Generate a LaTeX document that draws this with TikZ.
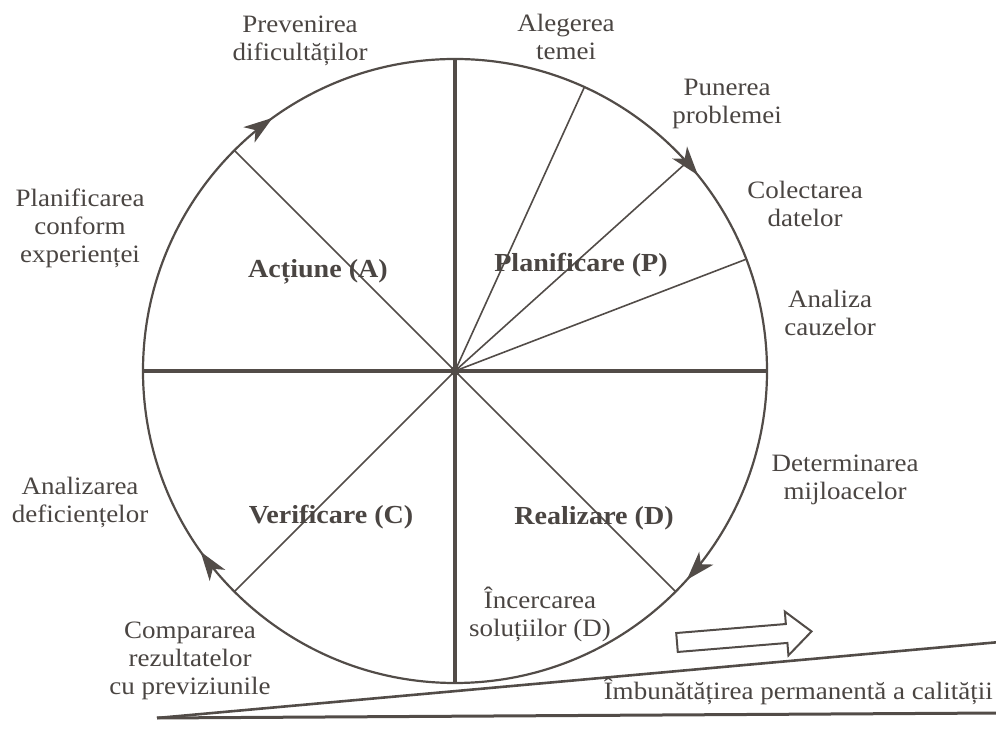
\documentclass[tikz,border=0pt]{standalone}
\usepackage{fontspec}
\setmainfont{Liberation Serif}[FakeStretch=1.08]
\usetikzlibrary{arrows.meta,decorations.markings,calc}
\definecolor{ink}{RGB}{82,76,72}
\definecolor{txt}{RGB}{74,69,66}

\begin{document}
\begin{tikzpicture}[x=1pt,y=1pt,
  lbl/.style={align=center,text=txt,font=\fontsize{25}{28}\selectfont,inner sep=0pt},
  phase/.style={text=txt,font=\fontsize{26}{30}\selectfont\bfseries,inner sep=0pt},
  axisline/.style={draw=ink,line width=3.4pt},
  spoke/.style={draw=ink,line width=1.6pt},
  rim/.style={draw=ink,line width=2.2pt},
  flowtip/.tip={Stealth[length=29pt,width=19pt,inset=8pt]},
]
\useasboundingbox (0,0) rectangle (996,741);

% centre of the PDCA wheel and points on its rim
\coordinate (o) at (455,370);
\foreach \a/\n in {0/e,90/n,180/w,270/s,135/act,225/ver,315/rea,65.5/ale,42/pun,21/col}
  \coordinate (r\n) at ($(o)+(\a:312)$);

% rim, drawn clockwise, with the direction arrows
\draw[rim, postaction={decorate}, decoration={markings,
    mark=at position 0.1167 with {\arrow[ink]{flowtip}},
    mark=at position 0.4017 with {\arrow[ink]{flowtip}},
    mark=at position 0.6506 with {\arrow[ink]{flowtip}},
    mark=at position 0.8920 with {\arrow[ink]{flowtip}}}]
  (re) arc[start angle=0, end angle=-360, radius=312];

% main axes
\draw[axisline] (rw) -- (re);
\draw[axisline] (rn) -- (rs);

% spokes
\foreach \n in {act,ver,rea,ale,pun,col}
  \draw[spoke] (o) -- (r\n);
\fill[ink] (o) circle (5);

% phase names
\node[phase] (pA) at (318,469) {Acțiune (A)};
\node[phase] (pP) at (581,476) {Planificare (P)};
\node[phase] (pC) at (331,224) {Verificare (C)};
\node[phase] (pD) at (594,223) {Realizare (D)};

% step labels round the wheel
\node[lbl] (l1) at (300,700) {Prevenirea\\dificultăților};
\node[lbl] (l2) at (566,704) {Alegerea\\temei};
\node[lbl] (l3) at (727,637) {Punerea\\problemei};
\node[lbl] (l4) at (805,537) {Colectarea\\datelor};
\node[lbl] (l5) at (830,428) {Analiza\\cauzelor};
\node[lbl] (l6) at (845,261) {Determinarea\\mijloacelor};
\node[lbl] (l7) at (540,127) {Încercarea\\soluțiilor (D)};
\node[lbl] (l8) at (190,80) {Compararea\\rezultatelor\\cu previziunile};
\node[lbl] (l9) at (80,239) {Analizarea\\deficiențelor};
\node[lbl] (l10) at (80,513) {Planificarea\\conform\\experienței};

% rising wedge of continuous improvement
\coordinate (wtip) at (157,23);
\coordinate (wlow) at (1000,28);
\coordinate (wup) at (1000,99);
\draw[ink, line width=3pt] (wtip) -- (wlow);
\draw[ink, line width=2.6pt] (wtip) -- (wup);
\node[lbl, anchor=base east] (imp) at (993,41) {Îmbunătățirea permanentă a calității};

% hollow arrow above the wedge
\begin{scope}[shift={(677,98.5)}, rotate=4.7]
  \draw[ink, line width=2pt, line join=miter]
    (0,-9.5) -- (110,-9.5) -- (110,-22) -- (135,0) -- (110,22) -- (110,9.5) -- (0,9.5) -- cycle;
\end{scope}
\end{tikzpicture}
\end{document}
